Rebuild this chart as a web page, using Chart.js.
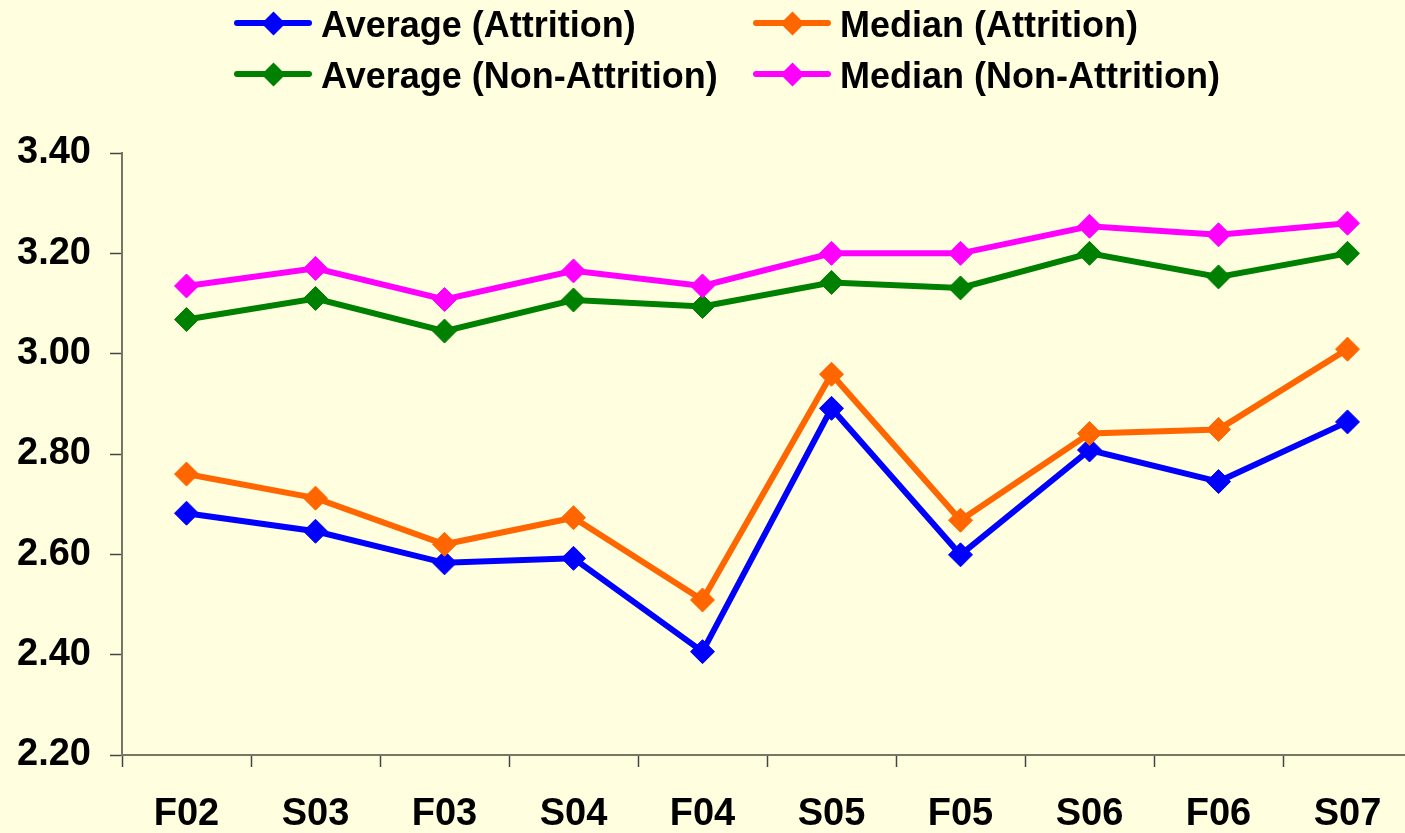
<!DOCTYPE html>
<html><head><meta charset="utf-8">
<script src="https://cdn.jsdelivr.net/npm/chart.js@4.4.1/dist/chart.umd.min.js"></script>
<style>
html,body{margin:0;padding:0;background:#FFFFE0;overflow:hidden;width:1405px;height:833px;}
#wrap{position:absolute;left:0;top:0;width:1425px;height:833px;}
#legend{position:absolute;left:0;top:0;width:1405px;height:110px;font-family:"Liberation Sans",Arial,sans-serif;font-weight:bold;font-size:36px;color:#000;}
.txt{position:absolute;height:36px;line-height:36px;white-space:nowrap;}
.ln{position:absolute;width:78px;height:6px;border-radius:3px;}
.dm{position:absolute;width:17px;height:17px;transform:rotate(45deg);}
</style></head>
<body>
<div id="wrap"><canvas id="c" width="1425" height="833"></canvas></div>
<div id="legend"></div>
<script>
const categories = ['F02','S03','F03','S04','F04','S05','F05','S06','F06','S07'];
const avgAttrition    = [2.682, 2.646, 2.583, 2.592, 2.406, 2.891, 2.599, 2.808, 2.745, 2.864];
const medAttrition    = [2.760, 2.712, 2.620, 2.673, 2.509, 2.959, 2.668, 2.841, 2.849, 3.009];
const avgNonAttrition = [3.068, 3.110, 3.045, 3.107, 3.094, 3.142, 3.131, 3.200, 3.153, 3.200];
const medNonAttrition = [3.135, 3.170, 3.108, 3.165, 3.135, 3.200, 3.200, 3.254, 3.237, 3.260];
const seriesLabels = ['Average (Attrition)', 'Median (Attrition)', 'Average (Non-Attrition)', 'Median (Non-Attrition)'];
const seriesColors = ['#0000FF', '#FF6600', '#008000', '#FF00FF'];
const yTickLabels = ['2.20', '2.40', '2.60', '2.80', '3.00', '3.20', '3.40'];

const FONT = '"Liberation Sans", Arial, sans-serif';
const seriesValues = [avgAttrition, medAttrition, avgNonAttrition, medNonAttrition];

const datasets = seriesValues.map((vals, i) => ({
  label: seriesLabels[i],
  data: vals,
  borderColor: seriesColors[i],
  backgroundColor: seriesColors[i],
  pointBackgroundColor: seriesColors[i],
  pointBorderColor: seriesColors[i],
  borderWidth: 6,
  pointStyle: 'rectRot',
  pointRadius: 12,
  pointBorderWidth: 1,
  tension: 0,
  fill: false,
  order: 10 - i
}));

const chart = new Chart(document.getElementById('c'), {
  type: 'line',
  data: { labels: categories, datasets },
  options: {
    responsive: false,
    animation: false,
    devicePixelRatio: 1,
    layout: { padding: { top: 153, left: 0, right: 0, bottom: 0 } },
    plugins: { legend: { display: false }, tooltip: { enabled: false } },
    scales: {
      x: {
        offset: true,
        grid: { display: true, drawOnChartArea: false, offset: true, tickLength: 12, tickColor: '#444', tickWidth: 1.5 },
        border: { color: '#777766', width: 2 },
        ticks: { font: { family: FONT, size: 38, weight: 'bold', lineHeight: 1.2 }, color: '#000', padding: 25, maxRotation: 0, autoSkip: false },
        afterFit(s) { s.height = 78; }
      },
      y: {
        min: 2.2, max: 3.4,
        grid: { display: true, drawOnChartArea: false, tickLength: 12, tickColor: '#444', tickWidth: 1.5 },
        border: { color: '#777766', width: 2 },
        ticks: { stepSize: 0.2, callback: (v, idx) => yTickLabels[idx], font: { family: FONT, size: 38, weight: 'bold', lineHeight: 1.2 }, color: '#000', padding: 19 },
        afterFit(s) { s.width = 122; }
      }
    }
  }
});

// HTML legend built from the series
const legend = document.getElementById('legend');
const colX = [234, 753];
const rowY = [23.3, 74.2];
seriesLabels.forEach((lab, i) => {
  const cx = colX[i % 2], cy = rowY[Math.floor(i / 2)];
  const ln = document.createElement('div');
  ln.className = 'ln';
  ln.style.left = cx + 'px'; ln.style.top = (cy - 3) + 'px'; ln.style.background = seriesColors[i];
  const dm = document.createElement('div');
  dm.className = 'dm';
  dm.style.left = (cx + 39 - 8.5) + 'px'; dm.style.top = (cy - 8.5) + 'px'; dm.style.background = seriesColors[i];
  const tx = document.createElement('div');
  tx.className = 'txt';
  tx.textContent = lab;
  tx.style.left = (cx + 87) + 'px'; tx.style.top = (cy + 1.2 - 17.6) + 'px';
  legend.appendChild(ln); legend.appendChild(dm); legend.appendChild(tx);
});
</script>
</body></html>
